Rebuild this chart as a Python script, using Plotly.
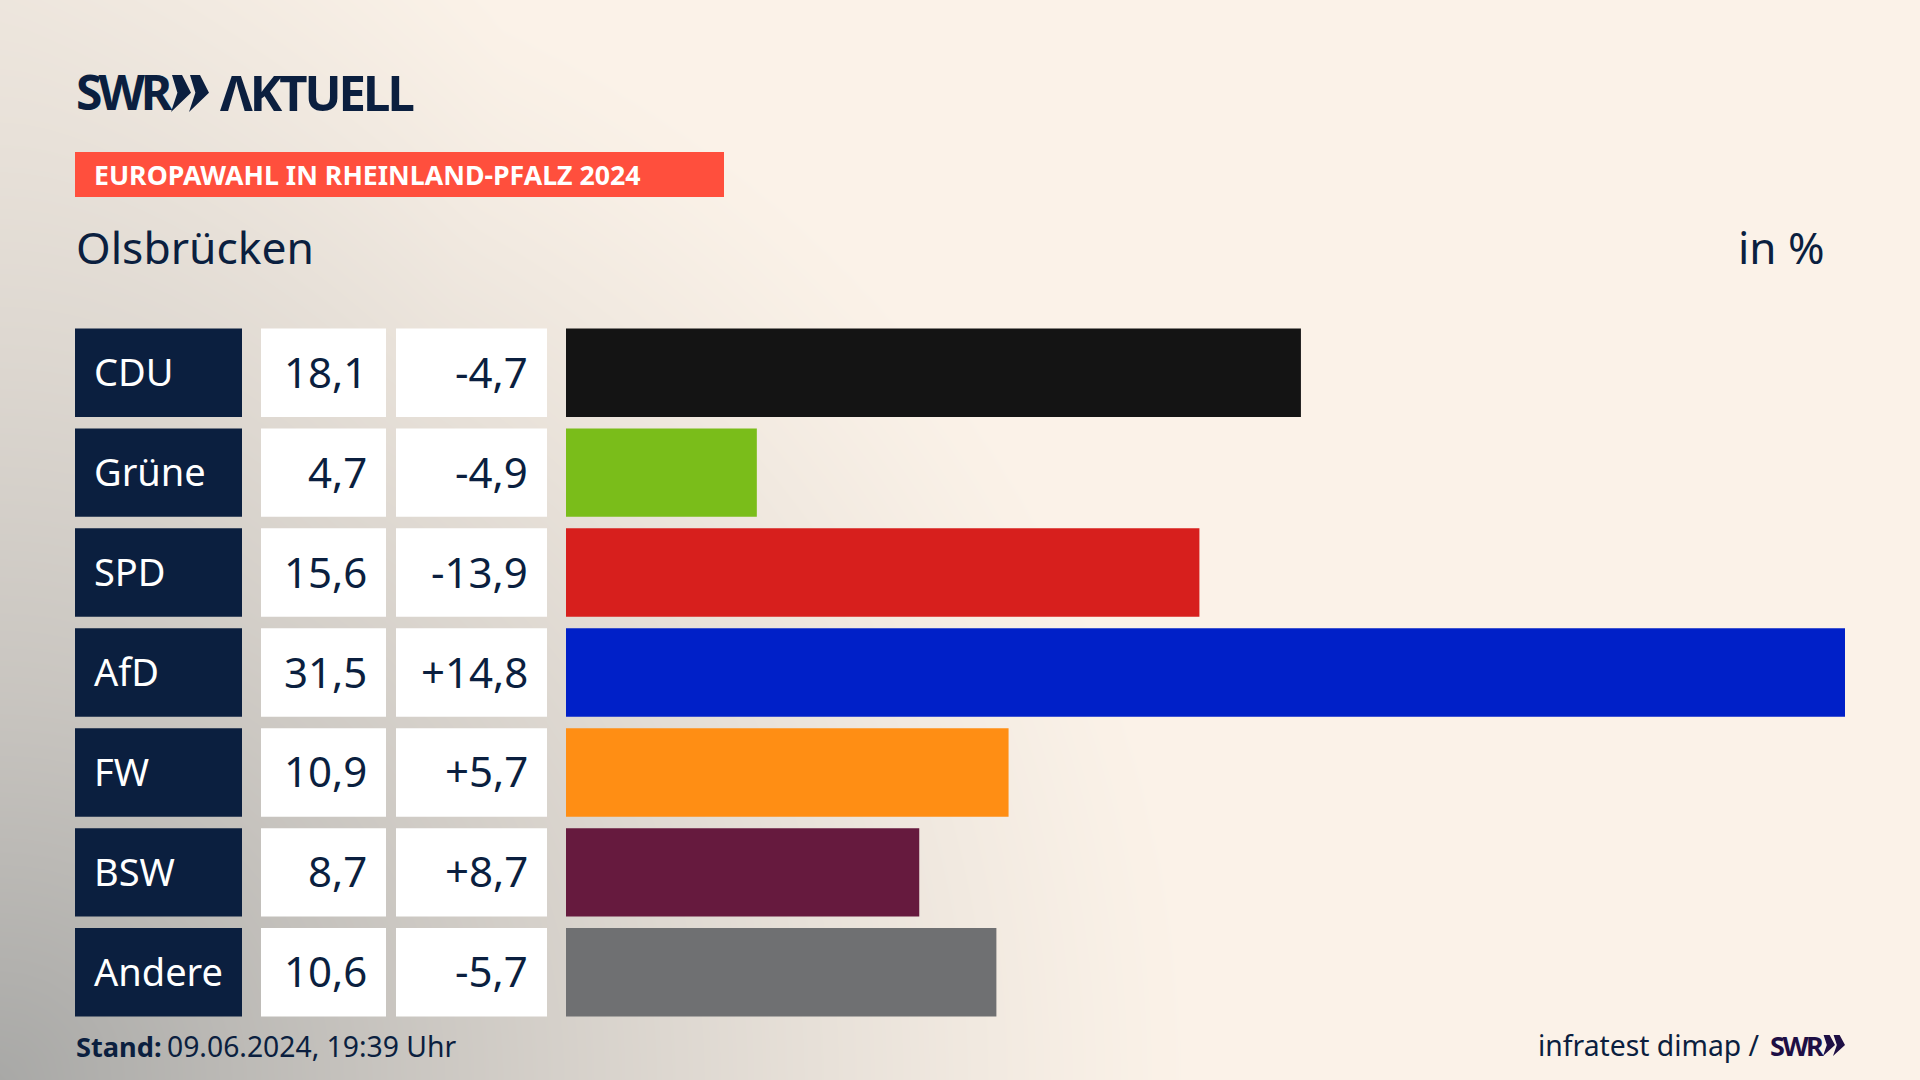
import numpy as np
import plotly.graph_objects as go

parties = ["CDU", "Grüne", "SPD", "AfD", "FW", "BSW", "Andere"]
shares = [18.1, 4.7, 15.6, 31.5, 10.9, 8.7, 10.6]
changes = [-4.7, -4.9, -13.9, 14.8, 5.7, 8.7, -5.7]
bar_colors = ["#141414", "#7ABD1A", "#D71F1D", "#0020C8", "#FF8E14", "#661A3E", "#6F7072"]

W, H = 1920, 1080
NAVY = "#0B1F3F"
FONT = "Noto Sans"


def px(x):
    return x / W


def py(y):
    return 1 - y / H


def de(v, sign=False):
    s = f"{v:+.1f}" if sign else f"{v:.1f}"
    return s.replace(".", ",")


def tight(s, spacing):
    return f'<span style="letter-spacing:{spacing}px"><b>{s}</b></span>'


# Background wash, strongest in the lower left corner
gx = np.linspace(0, W, 81)
gy = np.linspace(0, H, 46)
X, Y = np.meshgrid(gx, gy)
d1 = np.sqrt((X / 1200) ** 2 + ((H - Y) / 1180) ** 2)
d2 = np.sqrt((X / 500) ** 2 + (Y / 700) ** 2)
wash = np.clip(1 - d1, 0, 1) ** 1.25 + 0.12 * np.clip(1 - d2, 0, 1)
wash = np.clip(wash, 0, 1)

fig = go.Figure()
fig.add_trace(go.Heatmap(
    x=gx, y=gy, z=wash, zmin=0, zmax=1, zsmooth="best", showscale=False, hoverinfo="skip",
    colorscale=[[0, "#FBF2E8"], [1, "#A8A8A6"]], xaxis="x", yaxis="y",
))
fig.add_trace(go.Bar(
    x=shares, y=parties, orientation="h", marker=dict(color=bar_colors, line_width=0),
    xaxis="x2", yaxis="y2", hoverinfo="skip",
))

shapes = []
annotations = []


def text(x, y, s, size, color=NAVY, anchor="left", yref="paper", family=FONT, yshift=0):
    annotations.append(dict(
        x=px(x), xref="paper", y=py(y) if yref == "paper" else y, yref=yref, text=s, showarrow=False,
        xanchor=anchor, yanchor="middle", xshift=0, yshift=yshift, borderpad=0,
        font=dict(family=family, size=size, color=color),
    ))


def rect(x0, x1, y0, y1, color, yref="paper"):
    shapes.append(dict(
        type="rect", xref="paper", yref=yref, x0=px(x0), x1=px(x1), layer="above",
        y0=py(y0) if yref == "paper" else y0, y1=py(y1) if yref == "paper" else y1,
        fillcolor=color, line_width=0,
    ))


def chevrons(x, top, h, w, gap, color):
    for k in range(2):
        x0 = x + k * gap
        pts = [(x0 + 0.05 * w, top), (x0 + 0.55 * w, top), (x0 + w, top + 0.48 * h), (x0, top + h), (x0 + 0.32 * w, top + 0.48 * h)]
        path = "M" + " L".join(f"{px(a):.5f},{py(b):.5f}" for a, b in pts) + " Z"
        shapes.append(dict(type="path", xref="paper", yref="paper", path=path, fillcolor=color, line_width=0, layer="above"))


HALF = 0.4425
for i, p in enumerate(parties):
    rect(75, 242, i - HALF, i + HALF, NAVY, "y2")
    rect(261, 386, i - HALF, i + HALF, "#FFFFFF", "y2")
    rect(396, 547, i - HALF, i + HALF, "#FFFFFF", "y2")
    text(93, i, p, 38, "#FFFFFF", "left", "y2", yshift=1.5)
    text(368, i, de(shares[i]), 42, NAVY, "right", "y2", yshift=1.5)
    text(529, i, de(changes[i], True), 42, NAVY, "right", "y2", yshift=1.5)

# Header
text(75, 92, tight("SWR", -4), 48)
chevrons(171, 75, 37, 20, 18, NAVY)
text(219, 92, tight("ΛKTUELL", -3), 49)
rect(75, 724, 152, 197, "#FF4F3D")
text(93, 175, "<b>EUROPAWAHL IN RHEINLAND-PFALZ 2024</b>", 26.7, "#FFFFFF")
text(75, 247, "Olsbrücken", 44.4)
text(1826, 247, "in %", 44, NAVY, "right")

# Footer
text(75, 1046, "<b>Stand:</b>", 27.2)
text(166, 1046, "09.06.2024, 19:39 Uhr", 28.3)
text(1761, 1045, "infratest dimap /", 28.3, NAVY, "right")
text(1769, 1045, tight("SWR", -2.5), 27, "#1E0F45")
chevrons(1823, 1035, 21, 12, 10, "#1E0F45")

fig.update_layout(
    width=W, height=H, margin=dict(l=0, r=0, t=0, b=0), showlegend=False,
    paper_bgcolor="#FBF2E8", plot_bgcolor="rgba(0,0,0,0)",
    xaxis=dict(domain=[0, 1], range=[0, W], visible=False, fixedrange=True),
    yaxis=dict(domain=[0, 1], range=[H, 0], visible=False, fixedrange=True),
    xaxis2=dict(domain=[px(566), px(1845)], range=[0, 31.5], visible=False, anchor="y2", fixedrange=True),
    yaxis2=dict(domain=[py(1022.3), py(322.7)], autorange="reversed", type="category", visible=False, anchor="x2", fixedrange=True),
    bargap=0.115, shapes=shapes, annotations=annotations,
)
fig.write_html("out.html", config={"displayModeBar": False},
               post_script="document.body.style.margin='0';document.body.style.overflow='hidden';")
